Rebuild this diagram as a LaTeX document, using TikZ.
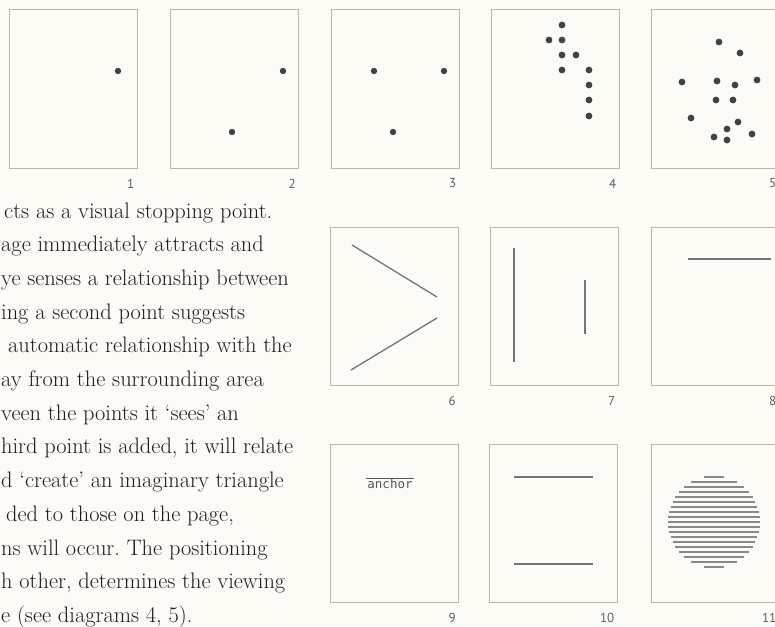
\documentclass[tikz,border=0pt]{standalone}
\usepackage{fontspec}
\newfontfamily\monofont{DejaVu Sans Mono}
\newfontfamily\numfont{PT Sans}
\usetikzlibrary{positioning}
\definecolor{paper}{HTML}{FCFBF6}
\definecolor{frame}{HTML}{C4B3A3}
\definecolor{ink}{HTML}{424242}
\definecolor{rule}{HTML}{747474}
\definecolor{prosecol}{HTML}{1F1C1A}
\tikzset{
  panel/.style={draw=frame, line width=1pt, minimum width=128pt, minimum height=158pt, inner sep=0pt},
  pnum/.style={font=\numfont\fontsize{13}{13}\selectfont, text=ink!85, inner sep=0pt, anchor=east},
  blob/.style={fill=ink},
  rulel/.style={draw=rule, line width=1.3pt},
  bodyline/.style={font=\frenchspacing\fontsize{22.4}{26}\selectfont, text=prosecol, inner sep=0pt, anchor=base west}
}
\begin{document}
\begin{tikzpicture}[x=1pt, y=-1pt]
\useasboundingbox (0,0) rectangle (775,626);
\fill[paper] (0,0) rectangle (775,626);
\clip (0,0) rectangle (775,626);
% the eleven panels
\node[panel] (p1) at (73,89) {};
\node[panel] (p2) at (234.5,89) {};
\node[panel] (p3) at (395,89) {};
\node[panel] (p4) at (555,89) {};
\node[panel] (p5) at (715,89) {};
\node[panel] (p6) at (394.5,306.5) {};
\node[panel] (p7) at (554,306.5) {};
\node[panel] (p8) at (715,306.5) {};
\node[panel] (p9) at (394.5,523) {};
\node[panel] (p10) at (553,523) {};
\node[panel] (p11) at (715,523) {};
% numbers under the panels
\foreach \n in {1,...,11}
  \node[pnum] (n\n) at ([xshift=-3pt,yshift=-15pt]p\n.south east) {\n};
% points
\fill[blob] (118,71) circle (3.2pt);
\fill[blob] (283,71) circle (3.2pt);
\fill[blob] (232,132) circle (3.2pt);
\foreach \x/\y in {374/71, 444/71, 393/132}
  \fill[blob] (\x,\y) circle (3.2pt);
\foreach \x/\y in {562/25, 549/40, 562/40, 562/55, 576/55, 562/70, 589/70, 589/85, 589/100, 589/116}
  \fill[blob] (\x,\y) circle (3.4pt);
\foreach \x/\y in {719/42, 740/53, 682/82, 717/81, 735/85, 757/80, 716/100, 733/100,
                   691/118, 738/122, 727/129, 752/134, 714/137, 727/140}
  \fill[blob] (\x,\y) circle (3.4pt);
% lines
\draw[rulel] (352,245) -- (437,297);
\draw[rulel] (351,370) -- (437,318);
\draw[rulel] (514,248) -- (514,362);
\draw[rulel] (585,280) -- (585,334);
\draw[rulel] (688,259) -- (771,259);
\draw[rulel] (514,477) -- (593,477);
\draw[rulel] (514,564) -- (593,564);
% word with a rule over it
\node[font=\monofont\fontsize{12.5}{12.5}\selectfont, text=ink!90, inner sep=1pt] (anchor) at (390,484) {anchor};
\draw[draw=ink!90, line width=0.9pt] (anchor.north west) -- (anchor.north east);
% disc made of horizontal lines
\foreach \k in {-9,...,9} {
  \pgfmathsetmacro\hw{sqrt(46*46-25*\k*\k)}
  \draw[draw=rule!85, line width=1.6pt] ({714-\hw},{522+5*\k}) -- ({714+\hw},{522+5*\k});
}
% body text, cut at the left edge
\node[bodyline] (t1) at (4,218) {cts as a visual stopping point.};
\node[bodyline] (t2) at (1,251.7) {age immediately attracts and};
\node[bodyline] (t3) at (1,285.4) {ye senses a relationship between};
\node[bodyline] (t4) at (1,319.1) {ing a second point suggests};
\node[bodyline] (t5) at (8,352.8) {automatic relationship with the};
\node[bodyline] (t6) at (1,386.5) {ay from the surrounding area};
\node[bodyline] (t7) at (1,420.2) {veen the points it `sees' an};
\node[bodyline] (t8) at (1,453.9) {hird point is added, it will relate};
\node[bodyline] (t9) at (1,487.6) {d `create' an imaginary triangle};
\node[bodyline] (t10) at (6,521.3) {ded to those on the page,};
\node[bodyline] (t11) at (1,555) {ns will occur. The positioning};
\node[bodyline] (t12) at (1,588.7) {h other, determines the viewing};
\node[bodyline] (t13) at (1,622.4) {e (see diagrams 4, 5).};
\end{tikzpicture}
\end{document}
